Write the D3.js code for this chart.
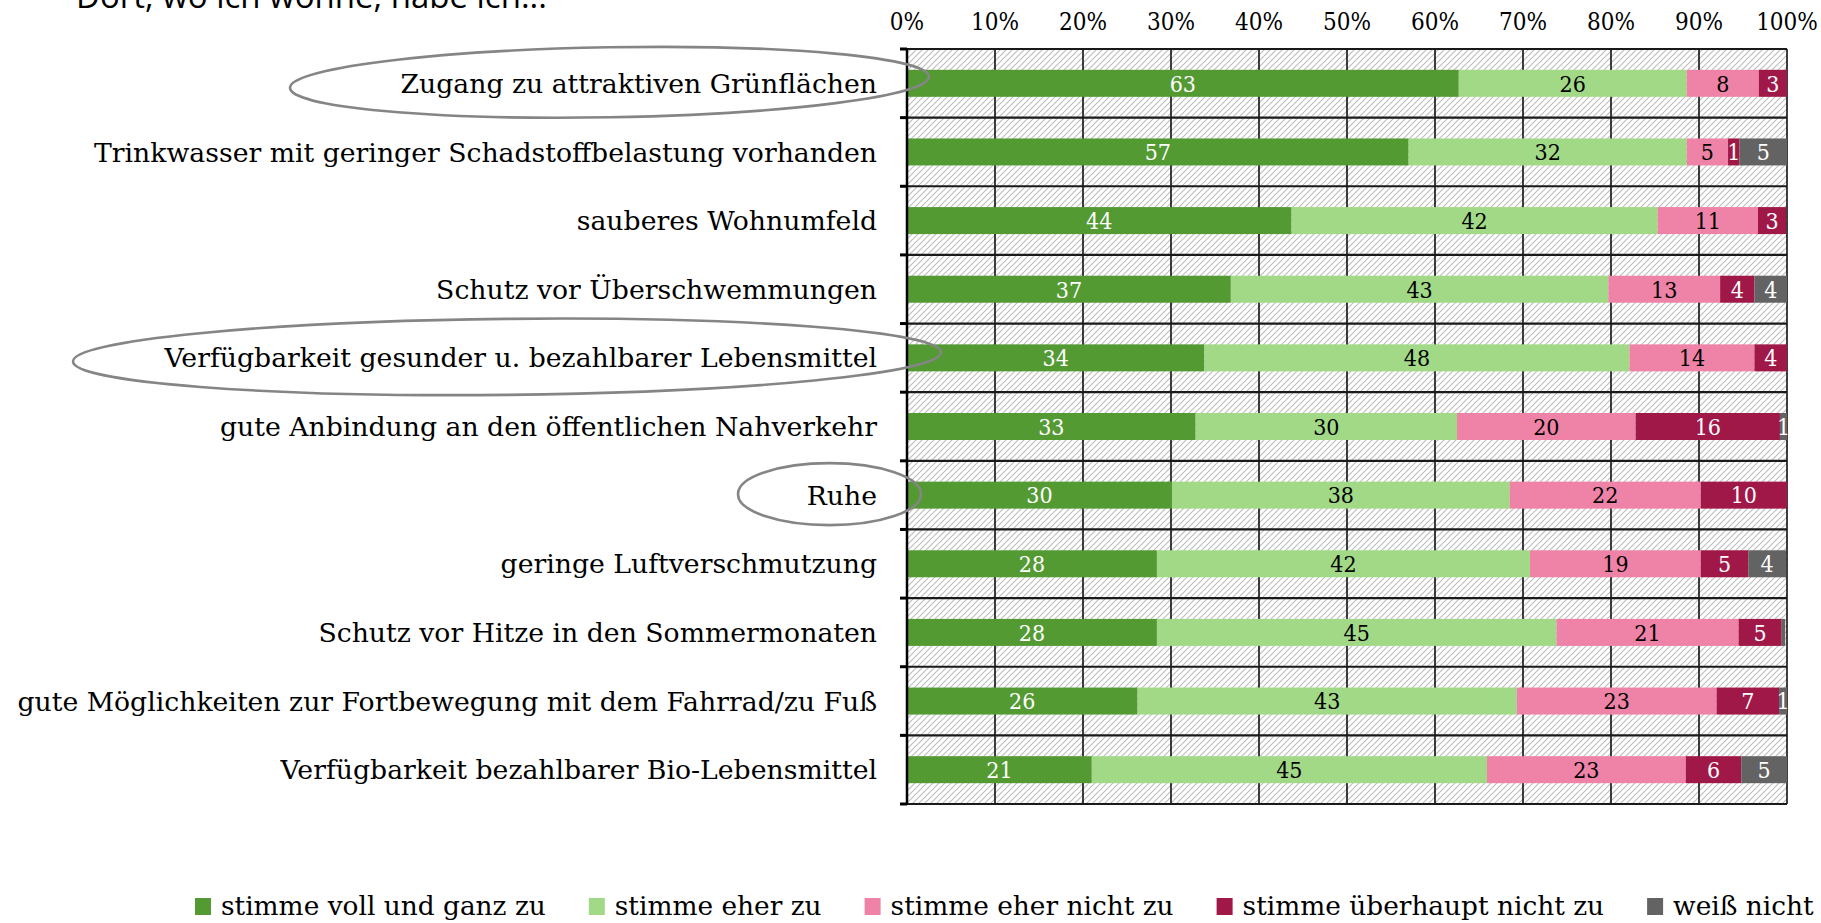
<!DOCTYPE html>
<html>
<head>
<meta charset="utf-8">
<script src="https://cdn.jsdelivr.net/npm/d3@7"></script>
<style>
  html, body { margin: 0; padding: 0; background: #fff; overflow: hidden; }
  svg { display: block; }
  .narrow { font-family: "DejaVu Serif Condensed", "DejaVu Serif", serif; font-stretch: condensed; }
  .serif { font-family: "DejaVu Serif", serif; }
</style>
</head>
<body>
<svg id="chart" width="1821" height="923"></svg>
<script>
const categories = [
  "Zugang zu attraktiven Grünflächen",
  "Trinkwasser mit geringer Schadstoffbelastung vorhanden",
  "sauberes Wohnumfeld",
  "Schutz vor Überschwemmungen",
  "Verfügbarkeit gesunder u. bezahlbarer Lebensmittel",
  "gute Anbindung an den öffentlichen Nahverkehr",
  "Ruhe",
  "geringe Luftverschmutzung",
  "Schutz vor Hitze in den Sommermonaten",
  "gute Möglichkeiten zur Fortbewegung mit dem Fahrrad/zu Fuß",
  "Verfügbarkeit bezahlbarer Bio-Lebensmittel"
];

const seriesNames = [
  "stimme voll und ganz zu",
  "stimme eher zu",
  "stimme eher nicht zu",
  "stimme überhaupt nicht zu",
  "weiß nicht"
];

// percent per category, top to bottom
const vollUndGanz     = [62.7, 57.0, 43.7, 36.8, 33.8, 32.8, 30.1, 28.4, 28.4, 26.2, 21.0];
const eherZu          = [25.9, 31.6, 41.6, 42.9, 48.3, 29.7, 38.4, 42.4, 45.4, 43.1, 44.9];
const eherNicht       = [8.2, 4.7, 11.4, 12.7, 14.2, 20.3, 21.7, 19.4, 20.7, 22.7, 22.6];
const ueberhauptNicht = [3.2, 1.3, 3.2, 3.9, 3.7, 16.4, 9.8, 5.4, 4.9, 7.1, 6.3];
const weissNicht      = [0, 5.4, 0, 3.7, 0, 0.8, 0, 4.3, 0.4, 0.9, 5.2];

const xTicks = [0, 10, 20, 30, 40, 50, 60, 70, 80, 90, 100];

// circled categories in the original
const circled = [
  { cat: "Zugang zu attraktiven Grünflächen", left: 290, right: 929, ry: 35, tilt: -1 },
  { cat: "Verfügbarkeit gesunder u. bezahlbarer Lebensmittel", left: 73, right: 941, ry: 38, tilt: -0.6 },
  { cat: "Ruhe", left: 738, right: 921, ry: 31, tilt: 0 }
];

const colors = ["#539a33", "#a1d986", "#ee82a7", "#a01848", "#636363"];
const labelColors = ["#ffffff", "#000000", "#000000", "#ffffff", "#ffffff"];

const allSeries = [vollUndGanz, eherZu, eherNicht, ueberhauptNicht, weissNicht];
const rows = categories.map((c, i) => {
  const r = { cat: c };
  seriesNames.forEach((s, j) => { r[s] = allSeries[j][i]; });
  return r;
});

const svg = d3.select("#chart");

const x = d3.scaleLinear().domain([0, 100]).range([907, 1787]);
const y = d3.scaleBand().domain(categories).range([49, 804]);
const barH = 27;

// hatch pattern
const defs = svg.append("defs");
const pat = defs.append("pattern")
  .attr("id", "hatch")
  .attr("patternUnits", "userSpaceOnUse")
  .attr("width", 6)
  .attr("height", 6);
pat.append("rect").attr("width", 6).attr("height", 6).attr("fill", "#fff");
pat.append("path")
  .attr("d", "M-1,1 l2,-2 M0,6 l6,-6 M5,7 l2,-2")
  .attr("stroke", "#bdbdbd")
  .attr("stroke-width", 1.1);

svg.append("rect")
  .attr("x", x(0))
  .attr("y", y.range()[0])
  .attr("width", x(100) - x(0))
  .attr("height", y.range()[1] - y.range()[0])
  .attr("fill", "url(#hatch)");

// vertical grid lines
svg.append("g")
  .selectAll("line")
  .data(xTicks.slice(1))
  .enter()
  .append("line")
  .attr("x1", (d) => x(d))
  .attr("x2", (d) => x(d))
  .attr("y1", y.range()[0])
  .attr("y2", y.range()[1])
  .attr("stroke", "#000")
  .attr("stroke-width", 1.5);

// horizontal band lines
const bounds = categories.map((c) => y(c)).concat([y.range()[1]]);
svg.append("g")
  .selectAll("line")
  .data(bounds)
  .enter()
  .append("line")
  .attr("x1", x(0))
  .attr("x2", x(100))
  .attr("y1", (d) => d)
  .attr("y2", (d) => d)
  .attr("stroke", "#1a1a1a")
  .attr("stroke-width", 2.2);

// bars
const stacked = d3.stack().keys(seriesNames)(rows);
const layers = svg.append("g")
  .selectAll("g")
  .data(stacked)
  .enter()
  .append("g")
  .attr("fill", (d, i) => colors[i]);

layers.selectAll("rect")
  .data((d) => d)
  .enter()
  .append("rect")
  .attr("x", (d) => x(d[0]))
  .attr("width", (d) => x(d[1]) - x(d[0]))
  .attr("y", (d) => y(d.data.cat) + (y.bandwidth() - barH) / 2)
  .attr("height", barH);

// value labels
stacked.forEach((layer, i) => {
  svg.append("g")
    .attr("class", "narrow")
    .selectAll("text")
    .data(layer.filter((d) => Math.round(d[1] - d[0]) >= 1))
    .enter()
    .append("text")
    .attr("x", (d) => (x(d[0]) + x(d[1])) / 2)
    .attr("y", (d) => y(d.data.cat) + y.bandwidth() / 2)
    .attr("dy", "0.36em")
    .attr("text-anchor", "middle")
    .attr("font-size", 23)
    .attr("fill", labelColors[i])
    .text((d) => Math.round(d[1] - d[0]));
});

// left axis with ticks at band boundaries
svg.append("line")
  .attr("x1", x(0)).attr("x2", x(0))
  .attr("y1", y.range()[0] - 1).attr("y2", y.range()[1] + 1)
  .attr("stroke", "#000")
  .attr("stroke-width", 2.5);

svg.append("g")
  .selectAll("line")
  .data(bounds)
  .enter()
  .append("line")
  .attr("x1", x(0) - 7)
  .attr("x2", x(0))
  .attr("y1", (d) => d)
  .attr("y2", (d) => d)
  .attr("stroke", "#000")
  .attr("stroke-width", 3);

// top axis labels
svg.append("g")
  .attr("class", "narrow")
  .selectAll("text")
  .data(xTicks)
  .enter()
  .append("text")
  .attr("x", (d) => x(d))
  .attr("y", 30)
  .attr("text-anchor", "middle")
  .attr("font-size", 24)
  .attr("fill", "#000")
  .text((d) => d + "%");

// category labels
svg.append("g")
  .attr("class", "serif")
  .selectAll("text")
  .data(categories)
  .enter()
  .append("text")
  .attr("x", 877)
  .attr("y", (d) => y(d) + y.bandwidth() / 2)
  .attr("dy", "0.36em")
  .attr("text-anchor", "end")
  .attr("font-size", 26.7)
  .attr("fill", "#000")
  .text((d) => d);

// circles around selected categories
svg.append("g")
  .selectAll("ellipse")
  .data(circled)
  .enter()
  .append("ellipse")
  .attr("cx", (d) => (d.left + d.right) / 2)
  .attr("cy", (d) => y(d.cat) + y.bandwidth() / 2 - 1)
  .attr("rx", (d) => (d.right - d.left) / 2)
  .attr("ry", (d) => d.ry)
  .attr("transform", (d) => `rotate(${d.tilt}, ${(d.left + d.right) / 2}, ${y(d.cat) + y.bandwidth() / 2})`)
  .attr("fill", "none")
  .attr("stroke", "#858585")
  .attr("stroke-width", 2.6);

// title (cut off at the top in the original)
svg.append("text")
  .attr("x", 76)
  .attr("y", 8)
  .attr("font-family", "'Open Sans', 'Noto Sans', sans-serif")
  .attr("font-size", 33)
  .attr("fill", "#000")
  .text("Dort, wo ich wohne, habe ich...");

// legend
const legend = svg.append("g").attr("class", "serif");
let lx = 195;
seriesNames.forEach((s, i) => {
  legend.append("rect")
    .attr("x", lx)
    .attr("y", 898)
    .attr("width", 16)
    .attr("height", 17)
    .attr("fill", colors[i]);
  const t = legend.append("text")
    .attr("x", lx + 26)
    .attr("y", 915)
    .attr("font-size", 26.4)
    .attr("fill", "#000")
    .text(s);
  lx += 26 + t.node().getComputedTextLength() + 43;
});
</script>
</body>
</html>
